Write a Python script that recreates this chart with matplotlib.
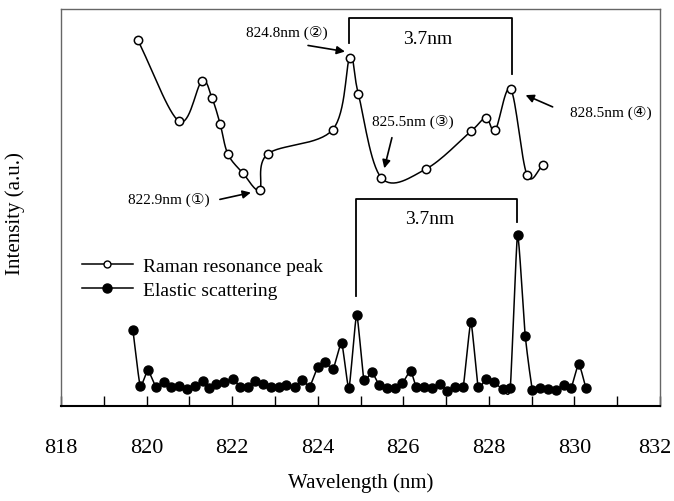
import numpy as np
import matplotlib
matplotlib.use("Agg")
import matplotlib.pyplot as plt
import matplotlib.transforms as mtransforms
from matplotlib.lines import Line2D

plt.rcParams['font.family'] = ['Liberation Serif', 'DejaVu Sans']

# Raman resonance peak (open circles), intensity in a.u.
raman_wl = [819.79, 820.76, 821.29, 821.53, 821.72, 821.90, 822.25, 822.64, 822.83, 824.35,
            824.75, 824.95, 825.49, 826.53, 827.58, 827.93, 828.15, 828.51, 828.89, 829.27]
raman_int = [366.3, 284.7, 324.7, 307.7, 282.0, 252.0, 233.0, 216.3, 252.0, 276.3,
             348.3, 312.0, 228.0, 237.0, 274.7, 288.0, 276.0, 317.0, 231.3, 241.0]

# Elastic scattering (filled circles)
elastic_wl = [819.68, 819.85, 820.03, 820.22, 820.40, 820.58, 820.76, 820.94, 821.14, 821.32,
              821.47, 821.63, 821.82, 822.01, 822.19, 822.36, 822.54, 822.72, 822.91, 823.09,
              823.27, 823.46, 823.64, 823.81, 824.00, 824.18, 824.36, 824.56, 824.73, 824.91,
              825.08, 825.26, 825.43, 825.61, 825.80, 825.98, 826.17, 826.30, 826.48, 826.66,
              826.85, 827.03, 827.21, 827.40, 827.58, 827.75, 827.93, 828.12, 828.32, 828.50,
              828.67, 828.85, 829.02, 829.20, 829.39, 829.57, 829.75, 829.92, 830.10, 830.27]
elastic_int = [76.3, 20.3, 35.7, 19.3, 23.7, 19.3, 20.3, 17.0, 20.3, 24.7,
               17.7, 22.3, 23.7, 27.0, 19.3, 19.3, 24.7, 22.3, 19.3, 19.3,
               21.0, 19.3, 26.3, 19.3, 39.0, 43.7, 37.0, 63.0, 17.7, 91.3,
               26.0, 34.3, 21.3, 17.7, 17.7, 22.7, 35.3, 19.3, 19.3, 17.7,
               22.0, 15.3, 19.3, 19.3, 83.7, 19.3, 27.0, 23.7, 17.0, 17.7,
               171.0, 70.3, 16.0, 17.7, 17.0, 16.0, 21.3, 17.7, 42.0, 17.7]

xticks = [818, 820, 822, 824, 826, 828, 830, 832]


def smooth(x, y, tension=0.0, xscale=42.7, n=16):
    # cardinal spline through the points (like a "smoothed line" chart)
    p = np.column_stack([np.asarray(x) * xscale, np.asarray(y)])
    ext = np.vstack([2 * p[0] - p[1], p, 2 * p[-1] - p[-2]])
    m = (1 - tension) * (ext[2:] - ext[:-2]) / 2
    t = np.linspace(0, 1, n, endpoint=False)[:, None]
    h00 = 2 * t**3 - 3 * t**2 + 1
    h10 = t**3 - 2 * t**2 + t
    h01 = -2 * t**3 + 3 * t**2
    h11 = t**3 - t**2
    out = []
    for i in range(len(p) - 1):
        out.append(h00 * p[i] + h10 * m[i] + h01 * p[i + 1] + h11 * m[i + 1])
    out.append(p[-1][None, :])
    out = np.vstack(out)
    return out[:, 0] / xscale, out[:, 1]


fig = plt.figure(figsize=(6.74, 5.02), dpi=100)
ax = fig.add_axes([61 / 674, 95 / 502, 599 / 674, 397 / 502])

sx, sy = smooth(raman_wl, raman_int)
ax.plot(sx, sy, color='black', lw=1.1)
ax.plot(raman_wl, raman_int, 'o', ms=6, mfc='white', mec='black', mew=1.1)

sx, sy = smooth(elastic_wl, elastic_int, tension=0.5)
ax.plot(sx, sy, color='black', lw=1.1)
ax.plot(elastic_wl, elastic_int, 'o', ms=6.5, color='black')

ax.set_xlim(818, 832)
ax.set_ylim(0, 397)
ax.set_xticks(xticks)
ax.set_xticks(range(818, 833), minor=True)
ax.tick_params(axis='x', which='both', direction='in', length=7, width=1, pad=23, labelsize=16)
ax.set_yticks([])

# last label sits right at the figure edge, nudge it in a bit
last = ax.get_xticklabels()[-1]
last.set_transform(last.get_transform() +
                   mtransforms.ScaledTranslation(-5 / 100, 0, fig.dpi_scale_trans))

for s in ['top', 'left', 'right']:
    ax.spines[s].set_color('#666666')
    ax.spines[s].set_linewidth(1)
ax.spines['bottom'].set_linewidth(1.5)

ax.set_xlabel('Wavelength (nm)', fontsize=15, va='center')
ax.xaxis.set_label_coords(0.5, -0.193)
ax.set_ylabel('Intensity (a.u.)', fontsize=15, va='center')
ax.yaxis.set_label_coords(-0.077, 0.486)

# brackets marking the 3.7 nm spacing
ax.plot([824.74, 824.74, 828.54, 828.54], [363, 388, 388, 332], color='black', lw=1.3)
ax.text(826.57, 368, '3.7nm', ha='center', va='center', fontsize=14)
ax.plot([824.89, 824.89, 828.66, 828.66], [110, 207, 207, 184], color='black', lw=1.3)
ax.text(826.62, 188, '3.7nm', ha='center', va='center', fontsize=14)

# peak labels
labels = [('822.9nm (①)', (820.53, 207), (821.65, 206), (822.50, 214)),
          ('824.8nm (②)', (823.27, 374), (823.71, 361), (824.70, 354)),
          ('825.5nm (③)', (826.22, 285), (825.75, 271), (825.54, 235)),
          ('828.5nm (④)', (830.86, 294), (829.55, 298), (828.80, 312))]
for txt, pos, tail, tip in labels:
    ax.text(pos[0], pos[1], txt, ha='center', va='center', fontsize=11)
    ax.annotate('', xy=tip, xytext=tail,
                arrowprops=dict(arrowstyle='-|>', color='black', lw=1.2, mutation_scale=12))

handles = [Line2D([], [], color='black', lw=1.1, marker='o', ms=5, mfc='white', mec='black'),
           Line2D([], [], color='black', lw=1.1, marker='o', ms=6.5, mfc='black')]
ax.legend(handles, ['Raman resonance peak', 'Elastic scattering'], loc='center left',
          bbox_to_anchor=(0.035, 0.322), frameon=False, fontsize=14, borderpad=0,
          borderaxespad=0, handlelength=2.6, handletextpad=0.55, labelspacing=0.35)

fig.savefig('out.png', dpi=100)
